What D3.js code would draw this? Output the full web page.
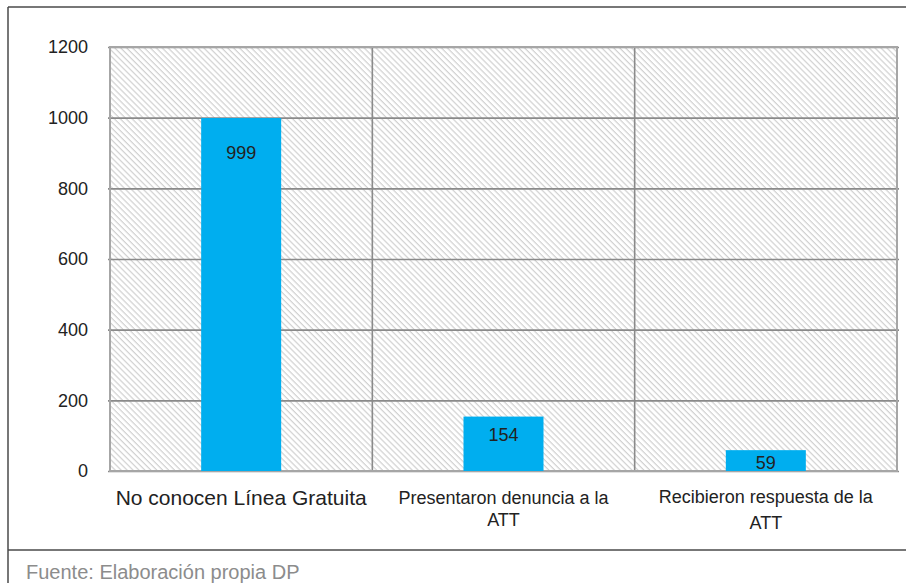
<!DOCTYPE html>
<html>
<head>
<meta charset="utf-8">
<script src="https://cdn.jsdelivr.net/npm/d3@7/dist/d3.min.js"></script>
<style>
  html, body { margin: 0; padding: 0; background: #fff; }
  svg { display: block; }
  text { font-family: "Liberation Sans", Arial, sans-serif; }
</style>
</head>
<body>
<svg id="chart" width="906" height="583"></svg>
<script>
// Survey results: knowledge of the free line and complaints to the ATT
const categories = [
  ["No conocen Línea Gratuita"],
  ["Presentaron denuncia a la", "ATT"],
  ["Recibieron respuesta de la", "ATT"]
];
const values = [999, 154, 59];
const yTicks = [0, 200, 400, 600, 800, 1000, 1200];
const source = "Fuente: Elaboración propia DP";

const W = 906, H = 583;
const plot = { left: 110, right: 897, top: 47, bottom: 471 };

const svg = d3.select("#chart");

// diagonal hatch used as plot background
const defs = svg.append("defs");
const pat = defs.append("pattern")
  .attr("id", "hatch")
  .attr("patternUnits", "userSpaceOnUse")
  .attr("width", 4.2).attr("height", 10)
  .attr("patternTransform", "rotate(-45)");
pat.append("line")
  .attr("x1", 1).attr("y1", 0).attr("x2", 1).attr("y2", 10)
  .attr("stroke", "#bdbdbd").attr("stroke-width", 0.85);

const x = d3.scaleBand()
  .domain(d3.range(categories.length))
  .range([plot.left, plot.right])
  .padding(0);

const y = d3.scaleLinear()
  .domain([0, 1200])
  .range([plot.bottom, plot.top]);

// outer frame
const frame = svg.append("g").attr("stroke", "#4a4a4a").attr("stroke-width", 1.5).attr("fill", "none");
frame.append("line").attr("x1", 8).attr("x2", W).attr("y1", 7).attr("y2", 7);
frame.append("line").attr("x1", 8).attr("x2", 8).attr("y1", 7).attr("y2", H);
frame.append("line").attr("x1", 8).attr("x2", W).attr("y1", 550).attr("y2", 550);

// plot background
svg.append("rect")
  .attr("x", plot.left).attr("y", plot.top)
  .attr("width", plot.right - plot.left).attr("height", plot.bottom - plot.top)
  .attr("fill", "url(#hatch)");

// horizontal gridlines + tick labels via axis
const yAxis = svg.append("g")
  .attr("transform", `translate(${plot.left},0)`)
  .call(d3.axisLeft(y).tickValues(yTicks).tickSize(-(plot.right - plot.left + 2)).tickPadding(22).tickFormat(d3.format("d")));
yAxis.select(".domain").remove();
yAxis.selectAll(".tick line")
  .attr("x1", -2)
  .attr("stroke", "#8a8a8a").attr("stroke-width", 1.6);
yAxis.selectAll(".tick text")
  .attr("fill", "#222").attr("font-size", 18)
  .attr("font-family", "'Liberation Sans', Arial, sans-serif");

// vertical separators between categories
svg.append("g").selectAll("line")
  .data(d3.range(1, categories.length))
  .join("line")
  .attr("x1", d => x(d)).attr("x2", d => x(d))
  .attr("y1", plot.top).attr("y2", plot.bottom)
  .attr("stroke", "#8a8a8a").attr("stroke-width", 1.6);

// plot border
svg.append("rect")
  .attr("x", plot.left).attr("y", plot.top)
  .attr("width", plot.right - plot.left).attr("height", plot.bottom - plot.top)
  .attr("fill", "none").attr("stroke", "#a6a6a6").attr("stroke-width", 2);

// bars
const barW = 80;
svg.append("g").selectAll("rect")
  .data(values)
  .join("rect")
  .attr("x", (d, i) => x(i) + (x.bandwidth() - barW) / 2)
  .attr("y", d => y(d))
  .attr("width", barW)
  .attr("height", d => y(0) - y(d))
  .attr("fill", "#00aeef");

// value labels inside the bars
const labelDy = [41, 24, 19];
svg.append("g").selectAll("text")
  .data(values)
  .join("text")
  .attr("x", (d, i) => x(i) + x.bandwidth() / 2)
  .attr("y", (d, i) => y(d) + labelDy[i])
  .attr("text-anchor", "middle")
  .attr("font-size", 18)
  .attr("fill", "#222")
  .text(d => d);

// category labels
const catSize = [21, 18, 18];
const catBase = [505, 504, 503];
const catLead = [0, 22, 26];
const cats = svg.append("g").selectAll("text")
  .data(categories)
  .join("text")
  .attr("text-anchor", "middle")
  .attr("font-size", (d, i) => catSize[i])
  .attr("fill", "#222")
  .attr("y", (d, i) => catBase[i]);
cats.each(function(lines, i) {
  const t = d3.select(this);
  lines.forEach((ln, k) => {
    t.append("tspan")
      .attr("x", x(i) + x.bandwidth() / 2)
      .attr("y", catBase[i] + k * catLead[i])
      .text(ln);
  });
});

// source note
svg.append("text")
  .attr("x", 26).attr("y", 579)
  .attr("font-size", 20)
  .attr("fill", "#8c8c8c")
  .text(source);
</script>
</body>
</html>
